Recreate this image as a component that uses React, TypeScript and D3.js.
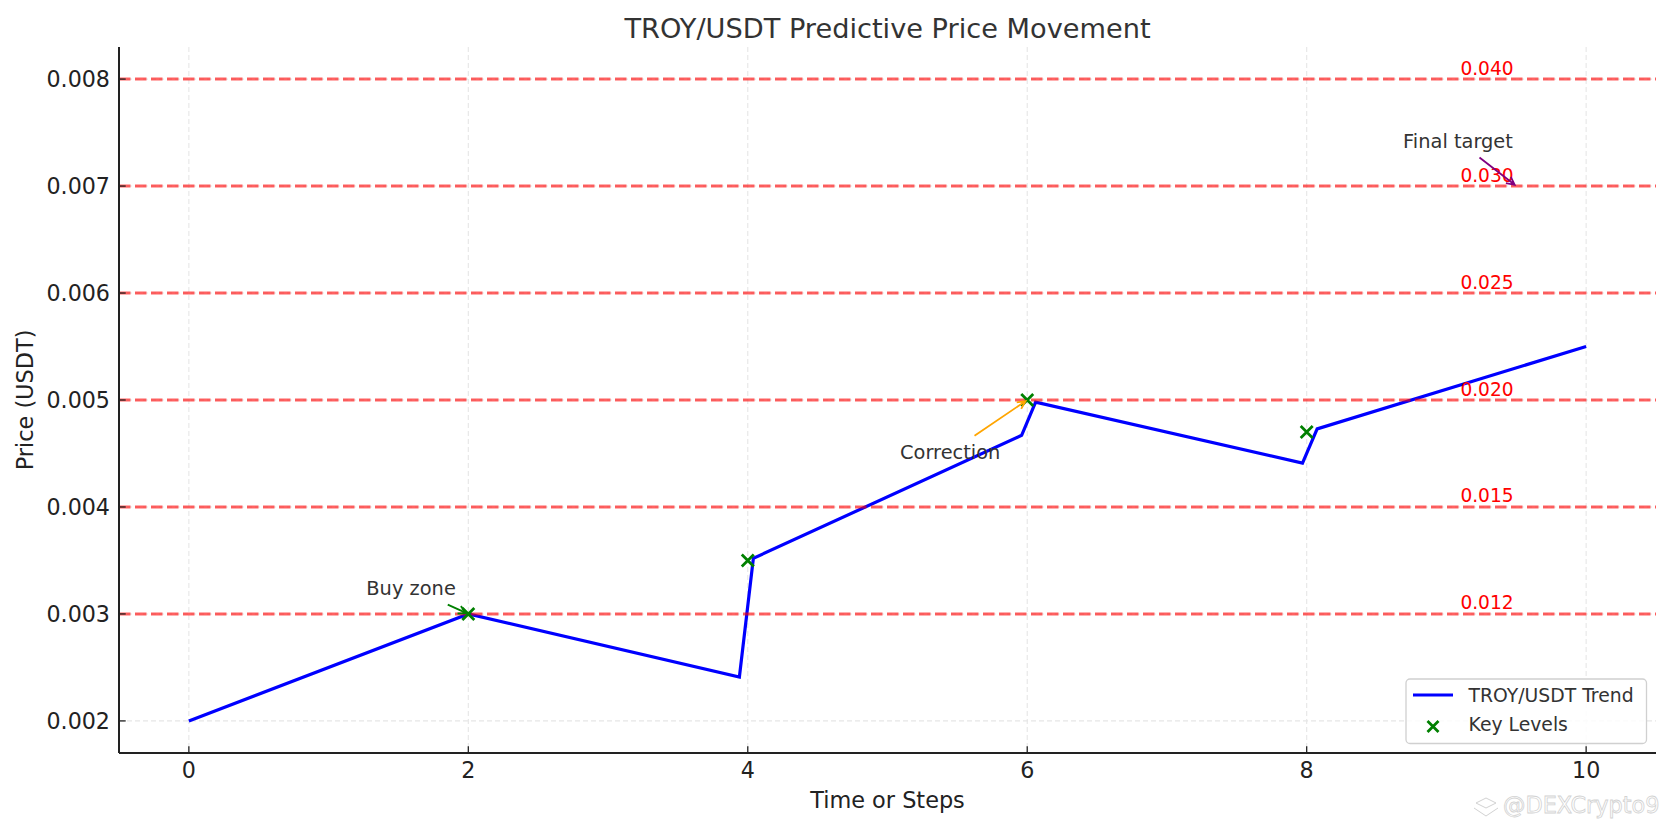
import { useEffect, useRef } from 'react';
import * as d3 from 'd3';

const WIDTH = 1670;
const HEIGHT = 828;
const FONT = '"DejaVu Sans", Verdana, sans-serif';

// trend line vertices (time step, price)
const trendX = [0, 2, 3.94, 4.04, 5.96, 6.06, 7.97, 8.075, 10];
const trendY = [0.002, 0.003, 0.00241, 0.00352, 0.00467, 0.00498, 0.00441, 0.00473, 0.0055];

// key level markers
const keyX = [2, 4, 6, 8];
const keyY = [0.003, 0.0035, 0.005, 0.0047];

// dashed horizontal levels and their labels
const levelY = [0.003, 0.004, 0.005, 0.006, 0.007, 0.008];
const levelLabels = ['0.012', '0.015', '0.020', '0.025', '0.030', '0.040'];
const levelLabelX = 9.1;

const xTicks = [0, 2, 4, 6, 8, 10];
const yTicks = [0.002, 0.003, 0.004, 0.005, 0.006, 0.007, 0.008];

// annotations
const noteLabels = ['Buy zone', 'Correction', 'Final target'];
const noteTargets: [number, number][] = [[2, 0.003], [6, 0.005], [9.5, 0.007]];
const noteTexts: [number, number][] = [[1.27, 0.00318], [5.09, 0.00445], [8.69, 0.00736]];
const noteColors = ['green', 'orange', 'purple'];

const legendLabels = ['TROY/USDT Trend', 'Key Levels'];

export default function App() {
  const svgRef = useRef<SVGSVGElement>(null);

  useEffect(() => {
    if (!svgRef.current) return;
    document.body.style.margin = '0';

    const svg = d3.select(svgRef.current);
    svg.selectAll('*').remove();

    const left = 119, right = 1656, top = 47, bottom = 753;

    const x = d3.scaleLinear().domain([-0.5, 10.5]).range([left, right]);
    const y = d3.scaleLinear().domain([0.0017, 0.0083]).range([bottom, top]);

    svg.append('rect').attr('width', WIDTH).attr('height', HEIGHT).attr('fill', '#fff');

    // grid
    const grid = svg.append('g')
      .attr('stroke', '#e6e6e6')
      .attr('stroke-width', 1.1)
      .attr('stroke-dasharray', '5,3');
    grid.selectAll('line.gx').data(xTicks).join('line')
      .attr('class', 'gx')
      .attr('x1', d => x(d)).attr('x2', d => x(d))
      .attr('y1', top).attr('y2', bottom);
    grid.selectAll('line.gy').data(yTicks).join('line')
      .attr('class', 'gy')
      .attr('x1', left).attr('x2', right)
      .attr('y1', d => y(d)).attr('y2', d => y(d));

    // trend line
    const line = d3.line<number>()
      .x(i => x(trendX[i]))
      .y(i => y(trendY[i]));
    svg.append('path')
      .attr('d', line(d3.range(trendX.length)))
      .attr('fill', 'none')
      .attr('stroke', '#0000ff')
      .attr('stroke-width', 3.2)
      .attr('stroke-linejoin', 'miter');

    // horizontal levels
    svg.append('g').selectAll('line').data(levelY).join('line')
      .attr('x1', left).attr('x2', right)
      .attr('y1', d => y(d)).attr('y2', d => y(d))
      .attr('stroke', '#ff0000')
      .attr('stroke-opacity', 0.62)
      .attr('stroke-width', 3)
      .attr('stroke-dasharray', '11.5,4.5');

    svg.append('g').selectAll('text').data(levelY).join('text')
      .attr('x', x(levelLabelX))
      .attr('y', d => y(d) - 4.5)
      .attr('fill', '#ff0000')
      .attr('font-family', FONT)
      .attr('font-size', 18.6)
      .text((_, i) => levelLabels[i]);

    // key level markers
    const cross = (g: d3.Selection<SVGGElement, unknown, null, undefined>, cx: number, cy: number, r: number, w: number) => {
      g.append('path')
        .attr('d', `M${cx - r},${cy - r}L${cx + r},${cy + r}M${cx - r},${cy + r}L${cx + r},${cy - r}`)
        .attr('stroke', '#008000')
        .attr('stroke-width', w)
        .attr('fill', 'none');
    };
    const markers = svg.append('g');
    keyX.forEach((k, i) => cross(markers, x(k), y(keyY[i]), 6, 2.8));

    // annotations
    noteLabels.forEach((label, i) => {
      const t = svg.append('text')
        .attr('x', x(noteTexts[i][0]))
        .attr('y', y(noteTexts[i][1]))
        .attr('fill', '#333')
        .attr('font-family', FONT)
        .attr('font-size', 19.4)
        .text(label);
      const bb = (t.node() as SVGTextElement).getBBox();
      const cx = bb.x + bb.width / 2;
      const cy = bb.y + bb.height / 2;
      const tx = x(noteTargets[i][0]);
      const ty = y(noteTargets[i][1]);
      const dx = tx - cx, dy = ty - cy;
      const hw = bb.width / 2 + 5, hh = bb.height / 2 + 5;
      const s = Math.min(dx !== 0 ? hw / Math.abs(dx) : Infinity, dy !== 0 ? hh / Math.abs(dy) : Infinity);
      const sx = cx + dx * s, sy = cy + dy * s;
      const len = Math.hypot(tx - sx, ty - sy);
      const ux = (tx - sx) / len, uy = (ty - sy) / len;
      const ex = tx - ux * 2, ey = ty - uy * 2;
      const hl = 8, hwid = 4;
      const bx = ex - ux * hl, by = ey - uy * hl;
      const px = -uy, py = ux;
      svg.append('path')
        .attr('d', `M${sx},${sy}L${ex},${ey}M${bx + px * hwid},${by + py * hwid}L${ex},${ey}L${bx - px * hwid},${by - py * hwid}`)
        .attr('fill', 'none')
        .attr('stroke', noteColors[i])
        .attr('stroke-width', 1.8);
    });

    // spines
    svg.append('line')
      .attr('x1', left).attr('x2', left).attr('y1', top).attr('y2', bottom)
      .attr('stroke', '#222').attr('stroke-width', 2);
    svg.append('line')
      .attr('x1', left).attr('x2', right).attr('y1', bottom).attr('y2', bottom)
      .attr('stroke', '#222').attr('stroke-width', 2);

    // ticks (inward)
    svg.append('g').selectAll('line').data(xTicks).join('line')
      .attr('x1', d => x(d)).attr('x2', d => x(d))
      .attr('y1', bottom).attr('y2', bottom - 6.7)
      .attr('stroke', '#222').attr('stroke-width', 1.3);
    svg.append('g').selectAll('line').data(yTicks).join('line')
      .attr('x1', left).attr('x2', left + 6.7)
      .attr('y1', d => y(d)).attr('y2', d => y(d))
      .attr('stroke', '#222').attr('stroke-width', 1.3);

    svg.append('g').selectAll('text').data(xTicks).join('text')
      .attr('x', d => x(d))
      .attr('y', 777.5)
      .attr('text-anchor', 'middle')
      .attr('fill', '#222')
      .attr('font-family', FONT)
      .attr('font-size', 22.2)
      .text(d => d3.format('d')(d));
    svg.append('g').selectAll('text').data(yTicks).join('text')
      .attr('x', 110)
      .attr('y', d => y(d))
      .attr('dy', '0.36em')
      .attr('text-anchor', 'end')
      .attr('fill', '#222')
      .attr('font-family', FONT)
      .attr('font-size', 22.2)
      .text(d => d3.format('.3f')(d));

    // axis labels and title
    svg.append('text')
      .attr('x', (left + right) / 2).attr('y', 808)
      .attr('text-anchor', 'middle')
      .attr('fill', '#222')
      .attr('font-family', FONT)
      .attr('font-size', 22.4)
      .text('Time or Steps');
    svg.append('text')
      .attr('transform', `translate(32.5, ${(top + bottom) / 2}) rotate(-90)`)
      .attr('text-anchor', 'middle')
      .attr('fill', '#222')
      .attr('font-family', FONT)
      .attr('font-size', 22.4)
      .text('Price (USDT)');
    svg.append('text')
      .attr('x', (left + right) / 2).attr('y', 37.5)
      .attr('text-anchor', 'middle')
      .attr('fill', '#333')
      .attr('font-family', FONT)
      .attr('font-size', 27.2)
      .text('TROY/USDT Predictive Price Movement');

    // legend
    const lg = svg.append('g');
    lg.append('rect')
      .attr('x', 1406).attr('y', 679).attr('width', 240.5).attr('height', 64.5)
      .attr('rx', 4)
      .attr('fill', '#fff').attr('fill-opacity', 0.85)
      .attr('stroke', '#d0d0d0').attr('stroke-width', 1.3);
    lg.append('line')
      .attr('x1', 1413).attr('x2', 1453).attr('y1', 695).attr('y2', 695)
      .attr('stroke', '#0000ff').attr('stroke-width', 3.2);
    cross(lg, 1433, 726.5, 5.5, 2.8);
    lg.selectAll('text').data(legendLabels).join('text')
      .attr('x', 1468.5)
      .attr('y', (_, i) => 702 + i * 29)
      .attr('fill', '#333')
      .attr('font-family', FONT)
      .attr('font-size', 18.8)
      .text(d => d);

    // watermark (hollow light-gray text)
    const wm = svg.append('g').attr('fill', 'none').attr('stroke', '#d2d2d2').attr('stroke-width', 1);
    wm.append('path').attr('d', 'M1476,803 L1486,798 L1496,803 L1486,808 Z');
    wm.append('path').attr('d', 'M1474,808 L1486,816 L1498,808');
    wm.append('text')
      .attr('x', 1503).attr('y', 813)
      .attr('font-family', FONT)
      .attr('font-size', 22.4)
      .attr('fill', '#fff')
      .attr('stroke-width', 0.8)
      .text('@DEXCrypto9');
  }, []);

  return (
    <svg
      ref={svgRef}
      width={WIDTH}
      height={HEIGHT}
      style={{ position: 'absolute', left: 0, top: 0, display: 'block' }}
    />
  );
}
